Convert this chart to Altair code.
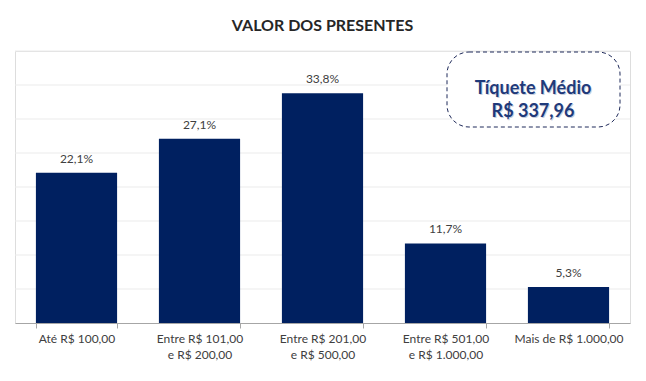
import altair as alt
import pandas as pd

categories = [
    "Até R$ 100,00",
    "Entre R$ 101,00\ne R$ 200,00",
    "Entre R$ 201,00\ne R$ 500,00",
    "Entre R$ 501,00\ne R$ 1.000,00",
    "Mais de R$ 1.000,00",
]
values = [22.1, 27.1, 33.8, 11.7, 5.3]
value_labels = ["22,1%", "27,1%", "33,8%", "11,7%", "5,3%"]
grid_values = [5, 10, 15, 20, 25, 30, 35, 40]
title_text = "VALOR DOS PRESENTES"
note_lines = ["Tíquete Médio", "R$ 337,96"]

df = pd.DataFrame({"cat": categories, "val": values, "lab": value_labels})
grid_df = pd.DataFrame({"g": grid_values})

FONT = "Lato"
BAR = "#002060"
W, H = 615, 272

yscale = alt.Scale(domain=[0, 40], nice=False)

x = alt.X(
    "cat:N",
    sort=categories,
    scale=alt.Scale(paddingInner=0.34, paddingOuter=0.17),
    axis=alt.Axis(
        title=None,
        labelAngle=0,
        labelExpr="split(datum.label, '\\n')",
        labelFont=FONT,
        labelFontSize=12,
        labelColor="#404040",
        labelLineHeight=16,
        labelPadding=5,
        labelBaseline="top",
        tickBand="extent",
        tickSize=5,
        tickColor="#a6a6a6",
        domainColor="#a6a6a6",
        grid=False,
    ),
)
y = alt.Y("val:Q", scale=yscale, axis=None)

grid = alt.Chart(grid_df).mark_rule(color="#ebebeb", strokeWidth=1).encode(
    y=alt.Y("g:Q", scale=yscale, axis=None), x=alt.value(0), x2=alt.value(W)
)

base = alt.Chart(df)
bars = base.mark_bar(color=BAR).encode(x=x, y=y)
text = base.mark_text(
    baseline="bottom", dy=-7, font=FONT, fontSize=12, color="#404040"
).encode(x=alt.X("cat:N", sort=categories), y="val:Q", text="lab:N")

note_df = pd.DataFrame({"k": [0]})
box = alt.Chart(note_df).mark_rect(
    fill="white",
    stroke="#1f2a5a",
    strokeWidth=1,
    strokeDash=[4, 3],
    cornerRadius=22,
).encode(
    x=alt.value(432), x2=alt.value(605), y=alt.value(1), y2=alt.value(76)
)
note_shadow = alt.Chart(note_df).mark_text(
    font=FONT, fontSize=18, fontWeight="bold", color="#c9cfdd",
    lineHeight=23, align="center", baseline="middle",
).encode(x=alt.value(519), y=alt.value(39), text=alt.value(note_lines))
note = alt.Chart(note_df).mark_text(
    font=FONT, fontSize=18, fontWeight="bold", color="#1f3a7a",
    lineHeight=23, align="center", baseline="middle",
).encode(x=alt.value(518), y=alt.value(38), text=alt.value(note_lines))

chart = (
    alt.layer(grid, bars, text, box, note_shadow, note)
    .properties(
        width=W,
        height=H,
        padding={"left": 7, "top": 43, "right": 8, "bottom": 50},
        autosize=alt.AutoSizeParams(type="none"),
        title=alt.TitleParams(
            title_text,
            font=FONT,
            fontSize=16,
            fontWeight="bold",
            color="#262626",
            anchor="middle",
            offset=17,
        ),
    )
    .configure_view(stroke=None)
    .configure(background="white")
)

chart.save("out.html", embed_options={"renderer": "svg", "actions": False})
